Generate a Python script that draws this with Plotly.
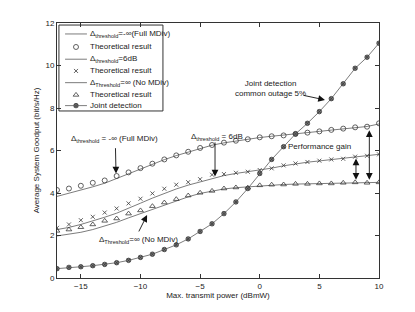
import plotly.graph_objects as go

x = list(range(-17, 11))

full_theory = [4.14, 4.21, 4.34, 4.48, 4.59, 4.80, 4.97, 5.17, 5.38, 5.58, 5.77, 5.94, 6.12, 6.26,
               6.37, 6.46, 6.53, 6.62, 6.67, 6.71, 6.78, 6.84, 6.90, 6.97, 7.03, 7.09, 7.12, 7.28]
full_sim = [3.84, 3.98, 4.13, 4.29, 4.46, 4.68, 4.92, 5.15, 5.37, 5.57, 5.76, 5.93, 6.11, 6.25,
            6.36, 6.45, 6.53, 6.61, 6.67, 6.72, 6.78, 6.84, 6.90, 6.96, 7.02, 7.08, 7.13, 7.25]
db6_theory = [2.36, 2.52, 2.72, 2.88, 3.08, 3.27, 3.51, 3.73, 3.98, 4.20, 4.39, 4.51, 4.65, 4.86,
              4.89, 4.95, 5.00, 5.08, 5.16, 5.30, 5.39, 5.46, 5.52, 5.58, 5.61, 5.71, 5.75, 5.82]
db6_sim = [2.28, 2.38, 2.52, 2.68, 2.86, 3.05, 3.27, 3.52, 3.76, 3.99, 4.19, 4.37, 4.52, 4.68,
           4.82, 4.92, 5.00, 5.08, 5.17, 5.28, 5.37, 5.45, 5.51, 5.57, 5.62, 5.69, 5.75, 5.82]
nomdiv_theory = [2.22, 2.28, 2.39, 2.52, 2.69, 2.80, 3.03, 3.18, 3.38, 3.55, 3.71, 3.88, 4.01, 4.10,
                 4.21, 4.26, 4.25, 4.36, 4.39, 4.40, 4.43, 4.43, 4.45, 4.45, 4.48, 4.50, 4.48, 4.50]
nomdiv_sim = [1.98, 2.05, 2.15, 2.28, 2.44, 2.62, 2.83, 3.03, 3.25, 3.45, 3.63, 3.82, 3.98, 4.09,
              4.19, 4.25, 4.29, 4.34, 4.38, 4.40, 4.42, 4.43, 4.45, 4.46, 4.47, 4.48, 4.49, 4.50]
joint = [0.44, 0.50, 0.53, 0.58, 0.64, 0.72, 0.83, 0.97, 1.12, 1.34, 1.56, 1.84, 2.19, 2.55,
         3.03, 3.58, 4.21, 4.92, 5.58, 6.18, 6.78, 7.28, 7.83, 8.44, 9.14, 9.87, 10.39, 11.05]

x_ticks = [-15, -10, -5, 0, 5, 10]
y_ticks = [0, 2, 4, 6, 8, 10, 12]

FONT = "Liberation Sans, Arial, sans-serif"
LC = "#5a5a5a"
MC = "#3a3a3a"
TC = "#222222"

SYM_CIRC = ("circle-open", 5)
SYM_X = ("x-thin-open", 4)
SYM_TRI = ("triangle-up-open", 5)
SYM_JOINT = ("circle-x", 4.5)
JOINT_FILL = "#777777"

fig = go.Figure()

def line(y):
    fig.add_trace(go.Scatter(x=x, y=y, mode="lines", line=dict(color=LC, width=0.8),
                             showlegend=False, hoverinfo="skip"))

def marks(y, sym):
    fig.add_trace(go.Scatter(x=x, y=y, mode="markers",
                             marker=dict(symbol=sym[0], size=sym[1], color=MC, line=dict(width=0.8, color=MC)),
                             showlegend=False, hoverinfo="skip"))

line(full_sim)
marks(full_theory, SYM_CIRC)
line(db6_sim)
marks(db6_theory, SYM_X)
line(nomdiv_sim)
marks(nomdiv_theory, SYM_TRI)
fig.add_trace(go.Scatter(x=x, y=joint, mode="lines+markers", line=dict(color=LC, width=0.8),
                         marker=dict(symbol=SYM_JOINT[0], size=SYM_JOINT[1], color=JOINT_FILL,
                                     line=dict(width=0.8, color=MC)),
                         showlegend=False, hoverinfo="skip"))

# Manual legend (overlay axis spanning the plot area, range 0..1)
leg_y = [0.957, 0.906, 0.858, 0.812, 0.766, 0.718, 0.676]
leg_text = ["Δ<sub>threshold</sub>=-∞(Full MDiv)", "Theoretical result",
            "Δ<sub>threshold</sub>=6dB", "Theoretical result",
            "Δ<sub>Threshold</sub>=∞ (No MDiv)", "Theoretical result", "Joint detection"]
leg_kind = ["line", SYM_CIRC, "line", SYM_X, "line", SYM_TRI, "joint"]
shapes = [dict(type="rect", xref="paper", yref="paper", x0=0.006, x1=0.329, y0=0.655, y1=0.992,
               line=dict(color="#333333", width=1), fillcolor="rgba(0,0,0,0)", layer="above")]
for yy, kind in zip(leg_y, leg_kind):
    if kind in ("line", "joint"):
        shapes.append(dict(type="line", xref="paper", yref="paper", x0=0.025, x1=0.093, y0=yy, y1=yy,
                           line=dict(color=LC, width=0.8), layer="above"))
    if kind == "joint":
        fig.add_trace(go.Scatter(x=[0.059], y=[yy], xaxis="x2", yaxis="y2", mode="markers",
                                 marker=dict(symbol=SYM_JOINT[0], size=SYM_JOINT[1], color=JOINT_FILL,
                                             line=dict(width=0.8, color=MC)),
                                 showlegend=False, hoverinfo="skip"))
    elif kind != "line":
        fig.add_trace(go.Scatter(x=[0.059], y=[yy], xaxis="x2", yaxis="y2", mode="markers",
                                 marker=dict(symbol=kind[0], size=kind[1], color=MC,
                                             line=dict(width=0.8, color=MC)),
                                 showlegend=False, hoverinfo="skip"))

annotations = []
for yy, t in zip(leg_y, leg_text):
    annotations.append(dict(xref="paper", yref="paper", x=0.097, y=yy, text=t, showarrow=False,
                            xanchor="left", yanchor="middle", font=dict(size=8, color=TC, family=FONT)))

def text(xx, yy, t):
    annotations.append(dict(x=xx, y=yy, text=t, showarrow=False, xanchor="center", yanchor="middle",
                            font=dict(size=8, color=TC, family=FONT)))

def arrow(x0, y0, x1, y1, both=False):
    annotations.append(dict(x=x1, y=y1, ax=x0, ay=y0, xref="x", yref="y", axref="x", ayref="y",
                            text="", showarrow=True, arrowhead=2, arrowsize=1.5, arrowwidth=0.9,
                            arrowcolor="#111111", arrowside="end+start" if both else "end",
                            startarrowhead=2, startarrowsize=1.5))

text(-12.14, 6.54, "Δ<sub>threshold</sub> = -∞ (Full MDiv)")
arrow(-12.1, 6.18, -12.05, 4.92)
text(-3.6, 6.64, "Δ<sub>threshold</sub> = 6dB")
arrow(-3.75, 6.45, -3.75, 4.78)
text(-10.2, 1.79, "Δ<sub>Threshold</sub>=∞ (No MDiv)")
arrow(-10.2, 2.12, -9.45, 2.96)
text(0.86, 8.92, "Joint detection<br>common outage 5%")
arrow(3.54, 8.61, 5.47, 8.38)
text(5.05, 6.21, "Performance gain")
arrow(8.07, 4.55, 8.07, 5.62, both=True)
arrow(9.19, 4.55, 9.19, 6.95, both=True)

# The page body adds an 8px offset; size the figure to fit the 415x312 window.
fig.update_layout(
    width=407, height=304,
    margin=dict(l=49, r=36, t=15, b=34),
    paper_bgcolor="white", plot_bgcolor="white",
    font=dict(family=FONT, size=8, color=TC),
    showlegend=False,
    shapes=shapes, annotations=annotations,
    xaxis=dict(range=[-17, 10], tickvals=x_ticks, ticktext=[str(v).replace("-", "−") for v in x_ticks],
               ticks="inside", ticklen=4, tickcolor="#333", showgrid=False, zeroline=False,
               showline=True, linecolor="#333", linewidth=1, mirror="ticks", automargin=False,
               title=dict(text="Max. transmit power (dBmW)", font=dict(size=8), standoff=2),
               tickfont=dict(size=8)),
    yaxis=dict(range=[0, 12], tickvals=y_ticks, ticks="inside", ticklen=4, tickcolor="#333",
               showgrid=False, zeroline=False, showline=True, linecolor="#333", linewidth=1,
               mirror="ticks", automargin=False,
               title=dict(text="Average System Goodput (bit/s/Hz)", font=dict(size=8), standoff=4),
               tickfont=dict(size=8)),
    xaxis2=dict(range=[0, 1], overlaying="x", visible=False, fixedrange=True),
    yaxis2=dict(range=[0, 1], overlaying="y", visible=False, fixedrange=True),
)

fig.write_html("out.html")
